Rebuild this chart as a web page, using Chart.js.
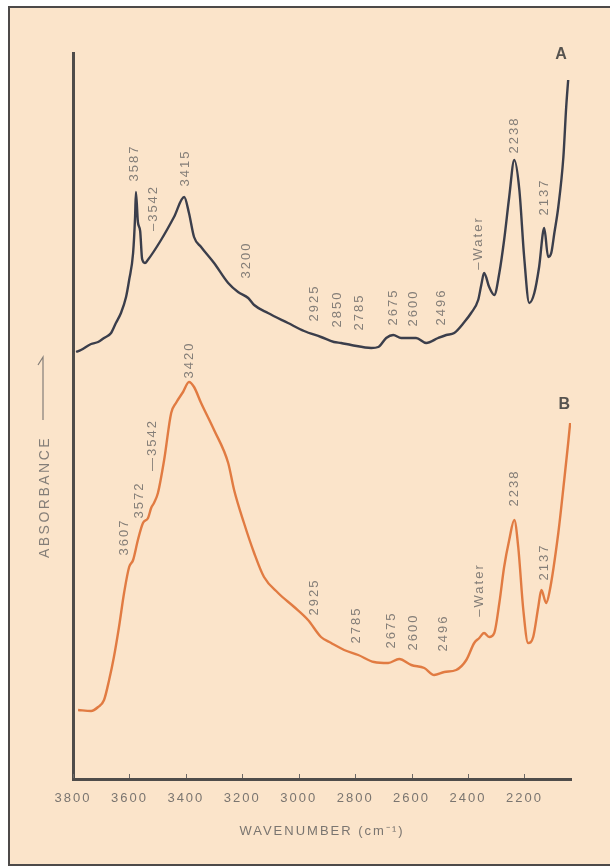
<!DOCTYPE html>
<html>
<head>
<meta charset="utf-8">
<title>IR spectra A and B</title>
<script src="https://cdn.jsdelivr.net/npm/chart.js@4.4.1/dist/chart.umd.min.js"></script>
<style>
  html, body { margin: 0; padding: 0; background: #fff; }
  body { width: 610px; height: 867px; position: relative; overflow: hidden; }
  .frame {
    position: absolute; left: 8px; top: 6px; width: 602px; height: 860px;
    box-sizing: border-box; background: #fbe4ca;
    border-left: 2px solid #4d4a49; border-top: 2px solid #4d4a49; border-bottom: 2px solid #4d4a49;
  }
  canvas { position: absolute; left: 0; top: 0; }
</style>
</head>
<body>
<div class="frame"></div>
<canvas id="spectra" width="610" height="867"></canvas>
<script>
// Spectrum A (wavenumber, absorbance in arbitrary units)
const waveA = [3789, 3772, 3736, 3711, 3690, 3665, 3648, 3630, 3612, 3601, 3587, 3580, 3577, 3570, 3562,
  3555, 3545, 3535, 3488, 3442, 3406, 3389, 3371, 3346, 3300, 3250, 3215, 3179, 3158, 3109, 3038, 2981,
  2921, 2875, 2850, 2814, 2743, 2718, 2690, 2665, 2637, 2612, 2584, 2548, 2506, 2477, 2449, 2413, 2389,
  2364, 2353, 2343, 2325, 2307, 2289, 2272, 2254, 2236, 2218, 2201, 2183, 2165, 2148, 2130, 2116, 2105,
  2094, 2080, 2062, 2052, 2045];
const absA = [42.7, 42.9, 43.5, 43.7, 44.1, 44.6, 45.6, 46.6, 48.2, 49.9, 52.6, 56.2, 58.7, 55.7, 54.8,
  52.0, 51.6, 51.9, 53.9, 56.2, 58.2, 56.6, 54.2, 53.2, 51.6, 49.6, 48.7, 48.1, 47.4, 46.6, 45.6, 44.8,
  44.2, 43.7, 43.6, 43.4, 43.1, 43.2, 44.1, 44.4, 44.1, 44.1, 44.1, 43.6, 44.1, 44.4, 44.6, 45.7, 46.6,
  47.9, 49.4, 50.6, 49.2, 48.4, 50.6, 53.9, 58.2, 61.9, 58.9, 52.2, 47.6, 48.6, 51.2, 55.1, 52.2, 52.6,
  54.6, 57.2, 62.2, 67.2, 69.9];

// Spectrum B
const waveB = [3782, 3736, 3711, 3690, 3672, 3655, 3637, 3619, 3601, 3587, 3570, 3552, 3534, 3523, 3513,
  3499, 3477, 3452, 3435, 3410, 3389, 3371, 3346, 3300, 3250, 3229, 3194, 3158, 3123, 3073, 3016, 2967,
  2921, 2885, 2839, 2789, 2733, 2683, 2644, 2601, 2555, 2520, 2484, 2442, 2406, 2378, 2360, 2343, 2325,
  2307, 2289, 2272, 2254, 2236, 2222, 2204, 2187, 2169, 2151, 2140, 2123, 2112, 2080, 2059, 2045, 2038];
const absB = [6.9, 6.8, 7.2, 7.9, 9.9, 12.2, 15.2, 18.6, 21.2, 21.9, 23.9, 25.6, 26.1, 27.1, 27.6,
  28.6, 31.9, 36.6, 37.6, 38.7, 39.7, 39.2, 37.6, 34.9, 31.6, 28.9, 25.6, 22.6, 20.2, 18.6, 17.2, 15.9,
  14.2, 13.6, 12.9, 12.4, 11.7, 11.6, 12.0, 11.4, 11.1, 10.4, 10.7, 10.9, 11.9, 13.6, 14.1, 14.6, 14.2,
  14.6, 17.6, 21.2, 23.9, 25.9, 23.2, 16.9, 13.6, 14.2, 17.2, 18.9, 17.6, 18.6, 24.6, 29.9, 33.6, 35.6];

const tickValues = [3800, 3600, 3400, 3200, 3000, 2800, 2600, 2400, 2200];

// peak labels: text, wavenumber, absorbance where the label sits
const labelsA = [
  ['3587', 3584, 61.6], ['–3542', 3516, 57.1], ['3415', 3403, 61.1], ['3200', 3187, 51.9],
  ['2925', 2945, 47.6], ['2850', 2864, 47.0], ['2785', 2786, 46.7], ['2675', 2665, 47.2],
  ['2600', 2594, 47.1], ['2496', 2495, 47.2], ['–Water', 2364, 53.6], ['2238', 2236, 64.4],
  ['2137', 2130, 58.2]
];
const labelsB = [
  ['3420', 3389, 41.9], ['3607', 3619, 24.2], ['3572', 3566, 27.9], ['—3542', 3520, 33.4],
  ['2925', 2945, 18.2], ['2785', 2796, 15.4], ['2675', 2672, 14.9], ['2600', 2594, 14.7],
  ['2496', 2488, 14.6], ['–Water', 2360, 18.9], ['2238', 2236, 29.1], ['2137', 2130, 21.7]
];
const seriesTags = [['A', 2070, 72.4], ['B', 2059, 37.4]];

const fontFamily = '"Liberation Sans", Arial, sans-serif';
const textGrey = '#847e78';

const decor = {
  id: 'decor',
  beforeDraw(chart) {
    chart.ctx.letterSpacing = '2px';
  },
  afterDatasetsDraw(chart) {
    const { ctx, scales: { x, y }, chartArea } = chart;
    ctx.save();

    // little ticks pointing up from the x axis
    ctx.strokeStyle = '#6d6966';
    ctx.lineWidth = 1;
    tickValues.forEach(v => {
      const px = Math.round(x.getPixelForValue(v)) + 0.5;
      ctx.beginPath();
      ctx.moveTo(px, chartArea.bottom - 1);
      ctx.lineTo(px, chartArea.bottom - 5);
      ctx.stroke();
    });

    // rotated peak labels
    ctx.fillStyle = textGrey;
    ctx.font = '13px ' + fontFamily;
    ctx.textAlign = 'center';
    ctx.textBaseline = 'middle';
    labelsA.concat(labelsB).forEach(([text, w, a]) => {
      ctx.save();
      ctx.translate(x.getPixelForValue(w), y.getPixelForValue(a));
      ctx.rotate(-Math.PI / 2);
      ctx.fillText(text, 0, 0);
      ctx.restore();
    });

    // A / B tags
    ctx.fillStyle = '#56534f';
    ctx.font = 'bold 16px ' + fontFamily;
    ctx.letterSpacing = '0px';
    seriesTags.forEach(([text, w, a]) => {
      ctx.fillText(text, x.getPixelForValue(w), y.getPixelForValue(a));
    });

    // y axis title with arrow
    const tx = chartArea.left - 28;
    ctx.save();
    ctx.translate(tx, y.getPixelForValue(28.2));
    ctx.rotate(-Math.PI / 2);
    ctx.fillStyle = textGrey;
    ctx.font = '14px ' + fontFamily;
    ctx.letterSpacing = '2.5px';
    ctx.fillText('ABSORBANCE', 0, 0);
    ctx.restore();

    const ax = tx - 2;
    const yTop = y.getPixelForValue(42.2);
    ctx.strokeStyle = textGrey;
    ctx.lineWidth = 1.2;
    ctx.beginPath();
    ctx.moveTo(ax, y.getPixelForValue(35.9));
    ctx.lineTo(ax, yTop);
    ctx.lineTo(ax - 5, yTop + 8);
    ctx.stroke();

    ctx.restore();
  }
};

new Chart(document.getElementById('spectra'), {
  type: 'line',
  data: {
    datasets: [
      {
        label: 'A',
        data: waveA.map((w, i) => ({ x: w, y: absA[i] })),
        borderColor: '#3b3e4b',
        borderWidth: 2.4,
        pointRadius: 0,
        cubicInterpolationMode: 'monotone',
        fill: false
      },
      {
        label: 'B',
        data: waveB.map((w, i) => ({ x: w, y: absB[i] })),
        borderColor: '#e17b42',
        borderWidth: 2.4,
        pointRadius: 0,
        cubicInterpolationMode: 'monotone',
        fill: false
      }
    ]
  },
  options: {
    responsive: false,
    animation: false,
    devicePixelRatio: 1,
    layout: { padding: { top: 53, right: 39, bottom: 20, left: 0 } },
    plugins: { legend: { display: false }, tooltip: { enabled: false } },
    scales: {
      x: {
        type: 'linear',
        reverse: true,
        min: 2035,
        max: 3800,
        afterBuildTicks: s => { s.ticks = tickValues.map(v => ({ value: v })); },
        afterFit: s => { s.height = 68; },
        grid: { display: false, drawTicks: false },
        border: { display: true, color: '#4f4c4a', width: 3 },
        ticks: {
          color: '#7a7570',
          font: { family: fontFamily, size: 13 },
          padding: 12,
          maxRotation: 0,
          autoSkip: false,
          callback: v => String(v)
        },
        title: {
          display: true,
          text: 'WAVENUMBER (cm⁻¹)',
          color: '#7a7570',
          font: { family: fontFamily, size: 13 },
          padding: { top: 0, bottom: 8 }
        }
      },
      y: {
        min: 0,
        max: 72.6,
        afterFit: s => { s.width = 73; },
        grid: { display: false, drawTicks: false },
        border: { display: true, color: '#4f4c4a', width: 3 },
        ticks: { display: false }
      }
    }
  },
  plugins: [decor]
});
</script>
</body>
</html>
